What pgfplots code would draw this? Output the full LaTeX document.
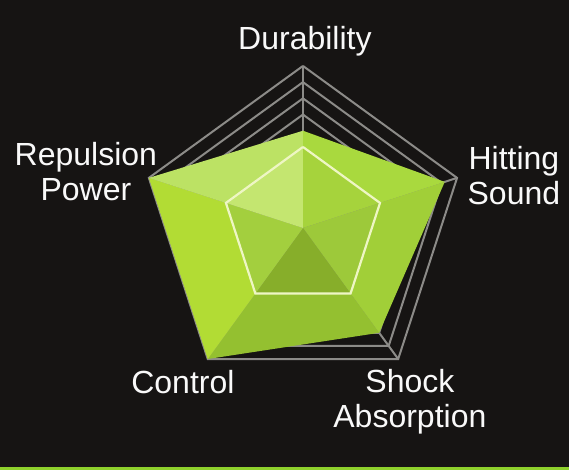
\documentclass[border=0pt]{standalone}
\usepackage{pgfplots}
\pgfplotsset{compat=1.18}
\usepackage{fontspec}
\setmainfont{Liberation Sans}

\definecolor{bg}{HTML}{161413}
\definecolor{gridc}{HTML}{8C8B88}
\definecolor{ring}{HTML}{EEF6C4}
\definecolor{strip}{HTML}{8ED12C}
% facet colours, inner part (r<0.5) and outer part
\definecolor{fAi}{HTML}{A6D33C}\definecolor{fAo}{HTML}{A9D93E}
\definecolor{fBi}{HTML}{9DC93A}\definecolor{fBo}{HTML}{A1CF38}
\definecolor{fCi}{HTML}{87AE2A}\definecolor{fCo}{HTML}{94C030}
\definecolor{fDi}{HTML}{A3CF3E}\definecolor{fDo}{HTML}{B2DC34}
\definecolor{fEi}{HTML}{C4E670}\definecolor{fEo}{HTML}{BCE264}

\tikzset{lab/.style={text=white!95!gray, font=\fontsize{16}{17.5}\selectfont, align=center}}

\begin{document}
\begin{tikzpicture}
\fill[bg] (0,0) rectangle (284.5pt,235pt);
\fill[strip] (0,0) rectangle (284.5pt,1.6pt);
\begin{axis}[
  at={(0,0)}, anchor=south west,
  scale only axis, width=284.5pt, height=235pt,
  xmin=-1.870, xmax=1.642, ymin=-1.494, ymax=1.407,
  hide axis, clip=false,
  every axis plot/.append style={data cs=polar},
]
% grid rings and spokes
\foreach \r in {0.7,0.8,0.9,1.0}{
  \edef\tmp{\noexpand\addplot[draw=gridc, line width=1pt, line join=miter] coordinates
    {(90,\r) (18,\r) (-54,\r) (-126,\r) (162,\r) (90,\r)};}
  \tmp
}
\addplot[draw=gridc, line width=1pt] coordinates {(90,0) (90,1)};
\addplot[draw=gridc, line width=1pt] coordinates {(18,0) (18,1)};
\addplot[draw=gridc, line width=1pt] coordinates {(-54,0) (-54,1)};
\addplot[draw=gridc, line width=1pt] coordinates {(-126,0) (-126,1)};
\addplot[draw=gridc, line width=1pt] coordinates {(162,0) (162,1)};

% values: Durability 0.6, Hitting Sound 0.92, Shock Absorption 0.8, Control 1.0, Repulsion Power 1.0
% Durability - Hitting Sound
\addplot[fill=fAi, draw=none] coordinates {(0,0) (90,0.5) (18,0.5)} -- cycle;
\addplot[fill=fAo, draw=none] coordinates {(90,0.5) (90,0.6) (18,0.92) (18,0.5)} -- cycle;
% Hitting Sound - Shock Absorption
\addplot[fill=fBi, draw=none] coordinates {(0,0) (18,0.5) (-54,0.5)} -- cycle;
\addplot[fill=fBo, draw=none] coordinates {(18,0.5) (18,0.92) (-54,0.8) (-54,0.5)} -- cycle;
% Shock Absorption - Control
\addplot[fill=fCi, draw=none] coordinates {(0,0) (-54,0.5) (-126,0.5)} -- cycle;
\addplot[fill=fCo, draw=none] coordinates {(-54,0.5) (-54,0.8) (-126,1.0) (-126,0.5)} -- cycle;
% Control - Repulsion Power
\addplot[fill=fDi, draw=none] coordinates {(0,0) (-126,0.5) (162,0.5)} -- cycle;
\addplot[fill=fDo, draw=none] coordinates {(-126,0.5) (-126,1.0) (162,1.0) (162,0.5)} -- cycle;
% Repulsion Power - Durability
\addplot[fill=fEi, draw=none] coordinates {(0,0) (162,0.5) (90,0.5)} -- cycle;
\addplot[fill=fEo, draw=none] coordinates {(162,0.5) (162,1.0) (90,0.6) (90,0.5)} -- cycle;

% inner white pentagon
\addplot[draw=ring, line width=1.1pt, line join=miter] coordinates
  {(90,0.5) (18,0.5) (-54,0.5) (-126,0.5) (162,0.5) (90,0.5)};

% category labels
\node[lab] at (axis cs:0.012,1.152) {Durability};
\node[lab] at (axis cs:-1.340,0.350) {Repulsion\\Power};
\node[lab] at (axis cs:1.302,0.325) {Hitting\\Sound};
\node[lab] at (axis cs:-0.741,-0.950) {Control};
\node[lab] at (axis cs:0.660,-1.072) {Shock\\Absorption};
\end{axis}
\end{tikzpicture}
\end{document}
